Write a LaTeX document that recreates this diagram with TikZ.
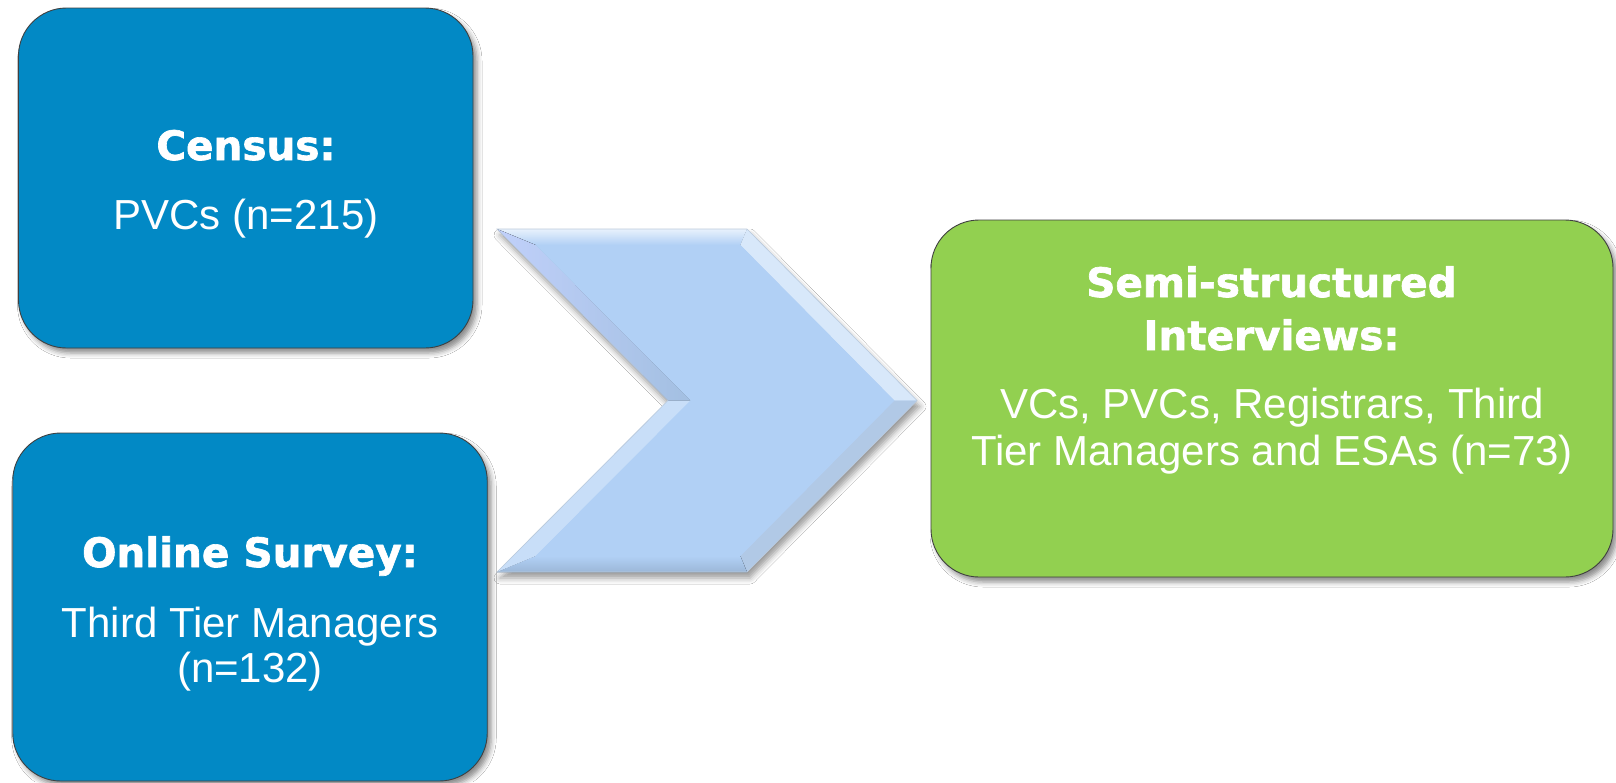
\documentclass[tikz,border=0pt]{standalone}
\usepackage{fontspec}
\setmainfont{Liberation Sans}
\newfontfamily\headfont{DejaVu Sans}[BoldFeatures={FakeBold=1.6}]
\usetikzlibrary{shadows.blur}
\definecolor{boxblue}{RGB}{2,137,197}
\definecolor{boxgreen}{RGB}{146,208,80}
\definecolor{chevmid}{RGB}{177,208,245}
\tikzset{
  box/.style={rounded corners=48pt, draw=black!75, line width=0.9pt, inner sep=0pt,
    blur shadow={shadow xshift=4pt, shadow yshift=-5pt, shadow blur radius=5pt, shadow opacity=45}},
  headtxt/.style={anchor=base, text=white, inner sep=0pt, font={\headfont\bfseries\fontsize{40.5}{47}\selectfont}},
  bodytxt/.style={anchor=base, text=white, inner sep=0pt, font={\fontsize{42}{47}\selectfont}},
}
\begin{document}
\begin{tikzpicture}[x=1pt,y=-1pt]
\useasboundingbox (0,0) rectangle (1616,782);
\fill[white] (0,0) rectangle (1616,782);

% boxes
\node[box, fill=boxblue, minimum width=454.5pt, minimum height=340pt] (census) at (245.75,178) {};
\node[box, fill=boxblue, minimum width=474.5pt, minimum height=348pt] (survey) at (250,607) {};
\node[box, fill=boxgreen, minimum width=682pt, minimum height=357pt] (interv) at (1272,398.5) {};

% chevron
\def\d{16}
\coordinate (oTL) at (497,229);
\coordinate (oTR) at (747,229);
\coordinate (oT) at (917,400.5);
\coordinate (oBR) at (747,572);
\coordinate (oBL) at (497,572);
\coordinate (oN) at (668,400.5);
\coordinate (iTL) at (497+2.414*\d,229+\d);
\coordinate (iTR) at (747-0.414*\d,229+\d);
\coordinate (iT) at (917-1.414*\d,400.5);
\coordinate (iBR) at (747-0.414*\d,572-\d);
\coordinate (iBL) at (497+2.414*\d,572-\d);
\coordinate (iN) at (668+1.414*\d,400.5);
\path[fill=chevmid, blur shadow={shadow xshift=3pt, shadow yshift=-6pt, shadow blur radius=6pt, shadow opacity=40}]
  (oTL) -- (oTR) -- (oT) -- (oBR) -- (oBL) -- (oN) -- cycle;
% bevel facets
\fill[top color=white!70!chevmid, bottom color=chevmid] (oTL) -- (oTR) -- (iTR) -- (iTL) -- cycle;
\fill[left color=chevmid!85!blue!60!white, right color=chevmid!92!black] (oTL) -- (iTL) -- (iN) -- (oN) -- cycle;
\fill[white!50!chevmid] (oTR) -- (oT) -- (iT) -- (iTR) -- cycle;
\fill[chevmid!92!black!85!white] (oT) -- (oBR) -- (iBR) -- (iT) -- cycle;
\fill[top color=chevmid, bottom color=chevmid!88!black] (oBR) -- (oBL) -- (iBL) -- (iBR) -- cycle;
\fill[white!30!chevmid] (oN) -- (iN) -- (iBL) -- (oBL) -- cycle;
\fill[chevmid] (iTL) -- (iTR) -- (iT) -- (iBR) -- (iBL) -- (iN) -- cycle;
\draw[chevmid!80!black!60!white, line width=0.6pt] (oTL) -- (oTR) -- (oT) -- (oBR) -- (oBL) -- (oN) -- cycle;

% texts
\node[headtxt] (censusH) at (246,160) {Census:};
\node[bodytxt] (censusB) at (246,229) {PVCs (n=215)};

\node[headtxt] (surveyH) at (250,567) {Online Survey:};
\node[bodytxt] (surveyB1) at (250,637) {Third Tier Managers};
\node[bodytxt] (surveyB2) at (250,682) {(n=132)};

\node[headtxt] (intervH1) at (1271.5,297) {Semi-structured};
\node[headtxt] (intervH2) at (1271.5,350) {Interviews:};
\node[bodytxt] (intervB1) at (1272,418) {VCs, PVCs, Registrars, Third};
\node[bodytxt] (intervB2) at (1272,465) {Tier Managers and ESAs (n=73)};
\end{tikzpicture}
\end{document}
